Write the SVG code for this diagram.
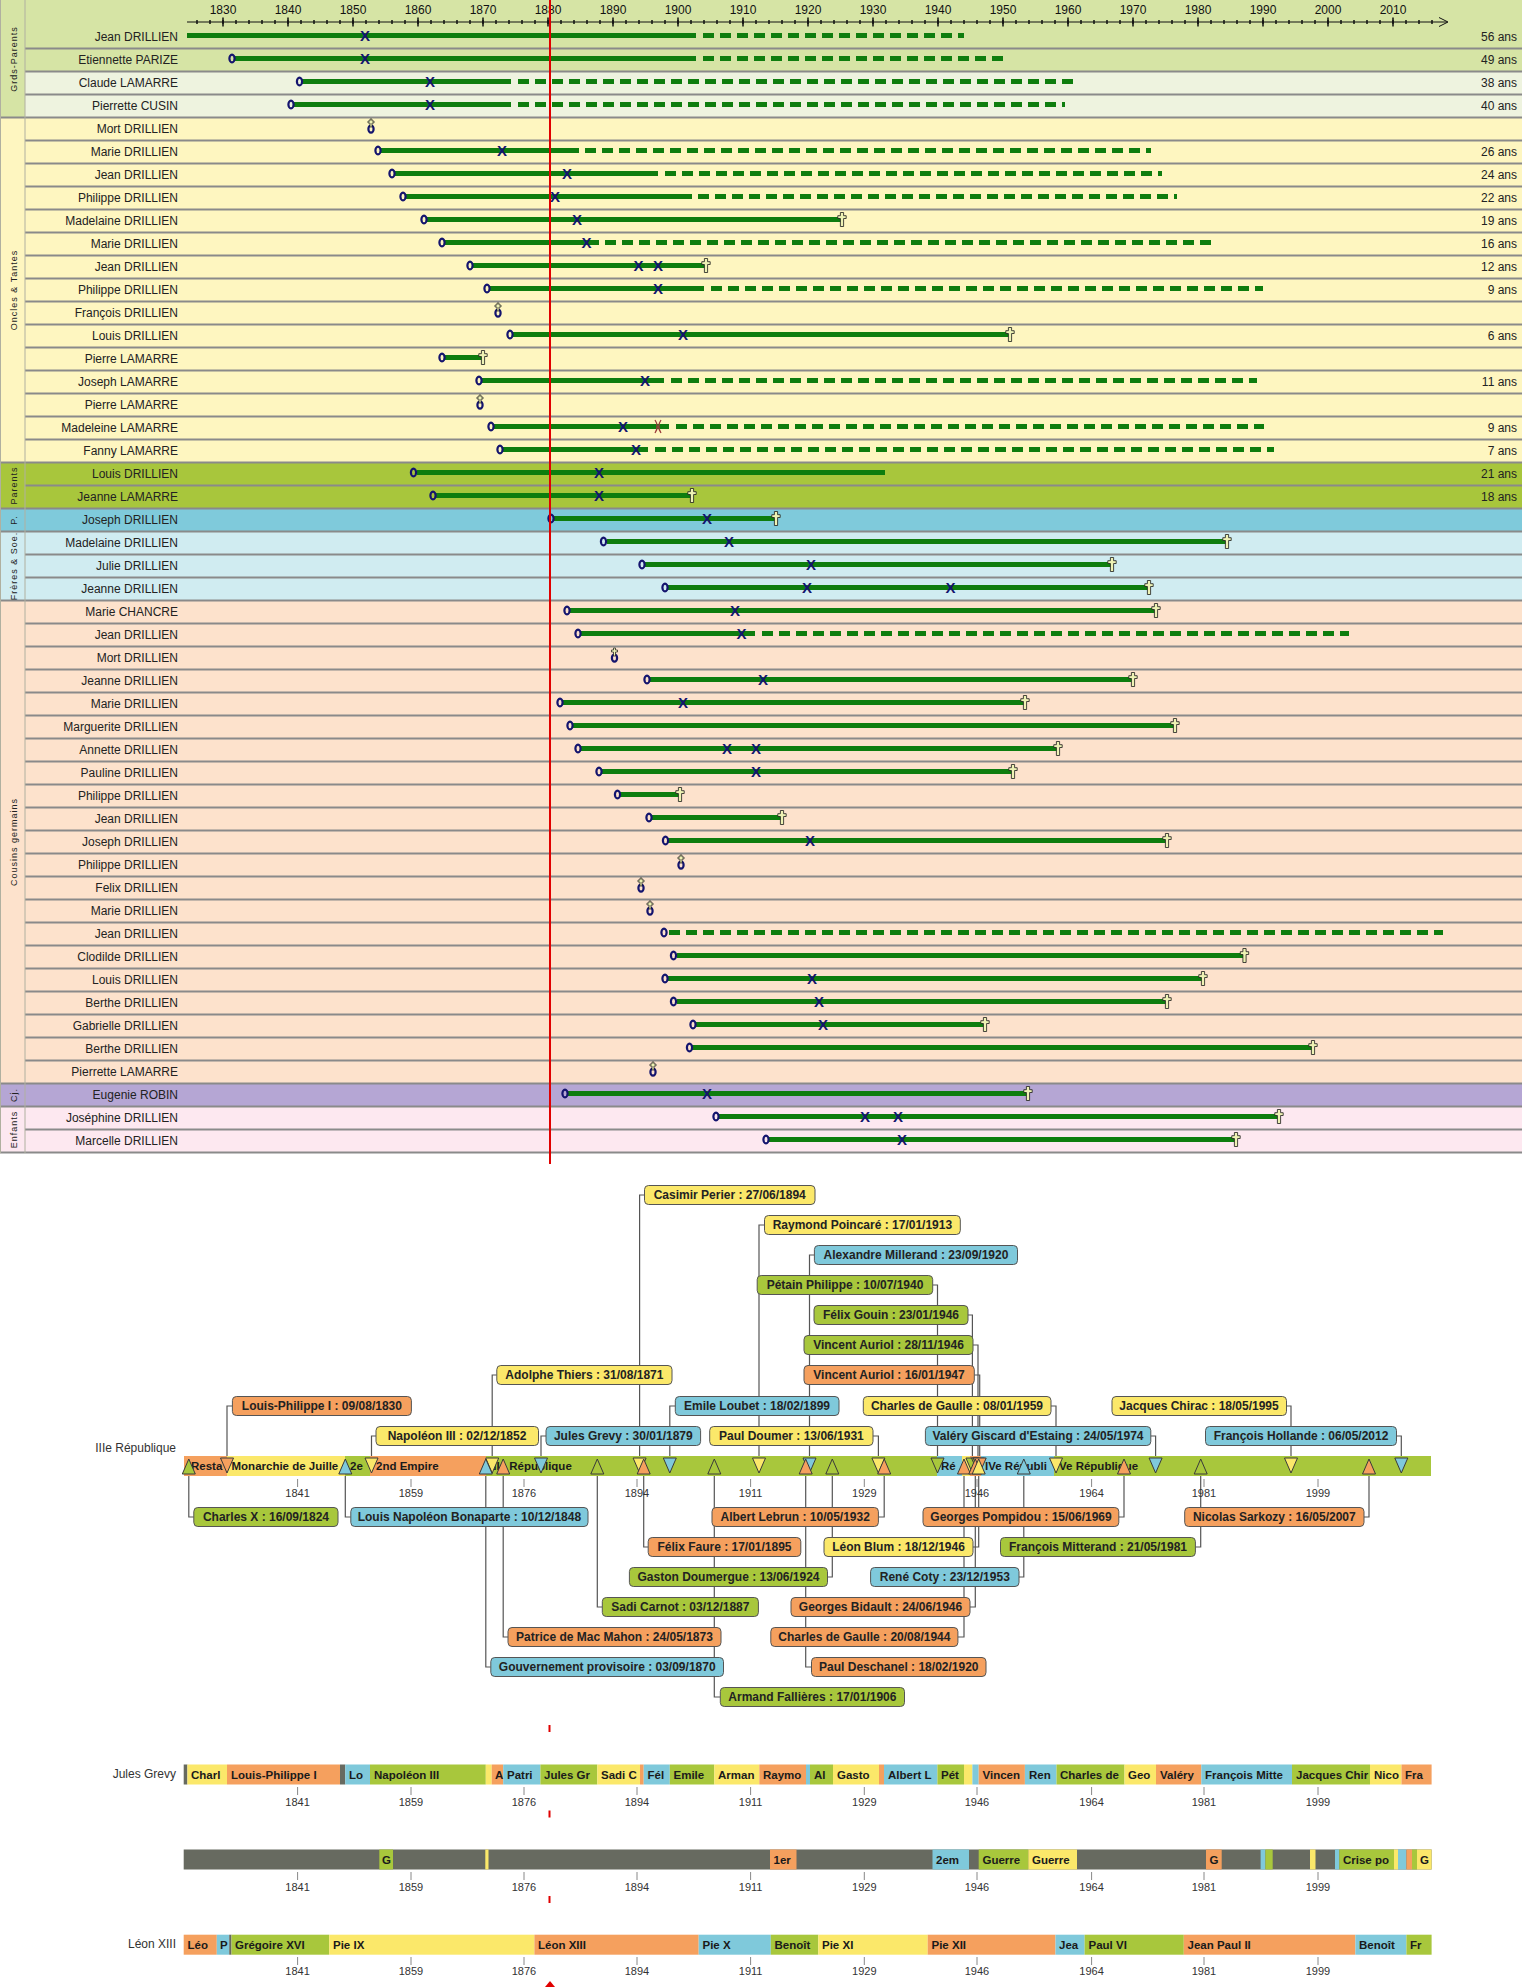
<svg xmlns="http://www.w3.org/2000/svg" width="1522" height="1987" viewBox="0 0 1522 1987">
<style>
text{font-family:"Liberation Sans",Arial,sans-serif}
.nm{font-size:12px;fill:#222;text-anchor:end}
.an{font-size:12px;fill:#222;text-anchor:end}
.yr{font-size:12px;fill:#111;text-anchor:middle}
.grp{font-size:9px;letter-spacing:1px;fill:#222;text-anchor:middle}
.s{stroke:#0e7d0e;stroke-width:5}
.d{stroke:#0e7d0e;stroke-width:5;stroke-dasharray:11 6}
.x{font-family:"Liberation Sans Narrow","Liberation Sans",Arial,sans-serif;font-size:15px;font-weight:bold;fill:#14146e;text-anchor:middle}
.sep{stroke:#8a8a8a;stroke-width:2;fill:none}
.Y{fill:#fbe86a}.O{fill:#f5a05e}.B{fill:#7fc9db}.G{fill:#a8c73c}.D{fill:#676a60}
.bx{stroke:#555;stroke-width:1}
.bt{font-size:12px;font-weight:bold;fill:#222;text-anchor:middle}
.st{font-size:11.5px;font-weight:bold;fill:#1a1a1a}
.tk{font-size:11px;fill:#333;text-anchor:middle}
.tkl{stroke:#888;stroke-width:1;fill:none}
.conn{stroke:#555;stroke-width:1.2;fill:none}
.tri{stroke:#3a3a3a;stroke-width:1}
.lbl{font-size:12px;fill:#333;text-anchor:end}
</style>
<defs>
<ellipse id="bo" rx="2.6" ry="3.8" fill="none" stroke="#14146e" stroke-width="2.2"/>
<path id="cr" d="M-1.6,-7 h3.2 v3.2 h2.6 v2.8 h-2.6 v8 h-3.2 v-8 h-2.6 v-2.8 h2.6z" fill="#eef2b4" stroke="#1a1a1a" stroke-width="0.8"/>
<g id="mo"><ellipse cx="0" cy="1.5" rx="2.6" ry="3.6" fill="none" stroke="#14146e" stroke-width="2.2"/><path d="M-1,-8.5 h2 v2 h2 v2 h-2 v4 h-2 v-4 h-2 v-2 h2z" fill="#eef2b4" stroke="#1a1a1a" stroke-width="0.7"/></g>
<path id="td" d="M-6.5,0 h13 L0,15z"/>
<path id="tu" d="M-6.5,0 h13 L0,-15z"/>
</defs>
<rect width="1522" height="1987" fill="#fff"/>

<g id="backgrounds">
<rect x="0" y="0" width="1522" height="71.5" fill="#d6e4a5"/>
<rect x="0" y="71.5" width="1522" height="46" fill="#eef3df"/>
<rect x="0" y="0" width="25" height="117.5" fill="#d6e4a5"/>
<rect x="0" y="117.5" width="1522" height="345" fill="#fef6c0"/>
<rect x="0" y="462.5" width="1522" height="46" fill="#a8c63c"/>
<rect x="0" y="508.5" width="1522" height="23" fill="#7fcadb"/>
<rect x="0" y="531.5" width="1522" height="69" fill="#d0ecf1"/>
<rect x="0" y="600.5" width="1522" height="483" fill="#fde2cc"/>
<rect x="0" y="1083.5" width="1522" height="23" fill="#b5a6d4"/>
<rect x="0" y="1106.5" width="1522" height="46" fill="#fde8f0"/>
<path class="sep" d="M25,48.5H1522M25,71.5H1522M25,94.5H1522M25,140.5H1522M25,163.5H1522M25,186.5H1522M25,209.5H1522M25,232.5H1522M25,255.5H1522M25,278.5H1522M25,301.5H1522M25,324.5H1522M25,347.5H1522M25,370.5H1522M25,393.5H1522M25,416.5H1522M25,439.5H1522M25,485.5H1522M25,554.5H1522M25,577.5H1522M25,623.5H1522M25,646.5H1522M25,669.5H1522M25,692.5H1522M25,715.5H1522M25,738.5H1522M25,761.5H1522M25,784.5H1522M25,807.5H1522M25,830.5H1522M25,853.5H1522M25,876.5H1522M25,899.5H1522M25,922.5H1522M25,945.5H1522M25,968.5H1522M25,991.5H1522M25,1014.5H1522M25,1037.5H1522M25,1060.5H1522M25,1129.5H1522"/>
<path class="sep" d="M0,117.5H1522M0,462.5H1522M0,508.5H1522M0,531.5H1522M0,600.5H1522M0,1083.5H1522M0,1106.5H1522M0,1152.5H1522"/>
<path d="M0.5,0V1153M25,0V1153" stroke="#b0b0a0" stroke-width="1" fill="none"/>
</g>

<g id="groups">
<text class="grp" transform="translate(16.5,59) rotate(-90)">Grds-Parents</text>
<text class="grp" transform="translate(16.5,290) rotate(-90)">Oncles &amp; Tantes</text>
<text class="grp" transform="translate(16.5,485.5) rotate(-90)">Parents</text>
<text class="grp" transform="translate(16.5,520) rotate(-90)">P.</text>
<text class="grp" transform="translate(16.5,566) rotate(-90)">Frères &amp; Soe.</text>
<text class="grp" transform="translate(16.5,842) rotate(-90)">Cousins germains</text>
<text class="grp" transform="translate(16.5,1095) rotate(-90)">Cj.</text>
<text class="grp" transform="translate(16.5,1129.5) rotate(-90)">Enfants</text>
</g>

<g id="axis">
<line x1="187" y1="22" x2="1447" y2="22" stroke="#111" stroke-width="1.2"/>
<line x1="196.25" y1="22" x2="1440" y2="22" stroke="#111" stroke-width="4" stroke-dasharray="1.5 11.5"/>
<line x1="222.25" y1="22" x2="1400" y2="22" stroke="#111" stroke-width="9" stroke-dasharray="1.5 63.5"/>
<path d="M1439,17.5 L1448,22 L1439,26.5" fill="none" stroke="#111" stroke-width="1"/>
<text class="yr" x="223" y="14">1830</text><text class="yr" x="288" y="14">1840</text><text class="yr" x="353" y="14">1850</text><text class="yr" x="418" y="14">1860</text><text class="yr" x="483" y="14">1870</text><text class="yr" x="548" y="14">1880</text><text class="yr" x="613" y="14">1890</text><text class="yr" x="678" y="14">1900</text><text class="yr" x="743" y="14">1910</text><text class="yr" x="808" y="14">1920</text><text class="yr" x="873" y="14">1930</text><text class="yr" x="938" y="14">1940</text><text class="yr" x="1003" y="14">1950</text><text class="yr" x="1068" y="14">1960</text><text class="yr" x="1133" y="14">1970</text><text class="yr" x="1198" y="14">1980</text><text class="yr" x="1263" y="14">1990</text><text class="yr" x="1328" y="14">2000</text><text class="yr" x="1393" y="14">2010</text>
</g>

<g id="row0"><text class="nm" x="178" y="41">Jean DRILLIEN</text><line class="s" x1="187" y1="35.5" x2="696" y2="35.5"/><line class="d" x1="703" y1="35.5" x2="964" y2="35.5"/><text class="x" x="365" y="41">X</text><text class="an" x="1517" y="41">56 ans</text></g>
<g id="row1"><text class="nm" x="178" y="64">Etiennette PARIZE</text><line class="s" x1="235" y1="58.5" x2="696" y2="58.5"/><line class="d" x1="703" y1="58.5" x2="1009" y2="58.5"/><use href="#bo" x="232" y="58.5"/><text class="x" x="365" y="64">X</text><text class="an" x="1517" y="64">49 ans</text></g>
<g id="row2"><text class="nm" x="178" y="87">Claude LAMARRE</text><line class="s" x1="302" y1="81.5" x2="511" y2="81.5"/><line class="d" x1="518" y1="81.5" x2="1078" y2="81.5"/><use href="#bo" x="299.5" y="81.5"/><text class="x" x="430" y="87">X</text><text class="an" x="1517" y="87">38 ans</text></g>
<g id="row3"><text class="nm" x="178" y="110">Pierrette CUSIN</text><line class="s" x1="294" y1="104.5" x2="511" y2="104.5"/><line class="d" x1="518" y1="104.5" x2="1065" y2="104.5"/><use href="#bo" x="291" y="104.5"/><text class="x" x="430" y="110">X</text><text class="an" x="1517" y="110">40 ans</text></g>
<g id="row4"><text class="nm" x="178" y="133">Mort DRILLIEN</text><use href="#mo" x="371" y="127.5"/></g>
<g id="row5"><text class="nm" x="178" y="156">Marie DRILLIEN</text><line class="s" x1="381" y1="150.5" x2="579" y2="150.5"/><line class="d" x1="585" y1="150.5" x2="1151" y2="150.5"/><use href="#bo" x="378" y="150.5"/><text class="x" x="502" y="156">X</text><text class="an" x="1517" y="156">26 ans</text></g>
<g id="row6"><text class="nm" x="178" y="179">Jean DRILLIEN</text><line class="s" x1="395" y1="173.5" x2="658" y2="173.5"/><line class="d" x1="665" y1="173.5" x2="1162" y2="173.5"/><use href="#bo" x="392" y="173.5"/><text class="x" x="567" y="179">X</text><text class="an" x="1517" y="179">24 ans</text></g>
<g id="row7"><text class="nm" x="178" y="202">Philippe DRILLIEN</text><line class="s" x1="406" y1="196.5" x2="692" y2="196.5"/><line class="d" x1="698" y1="196.5" x2="1177" y2="196.5"/><use href="#bo" x="403" y="196.5"/><text class="x" x="555" y="202">X</text><text class="an" x="1517" y="202">22 ans</text></g>
<g id="row8"><text class="nm" x="178" y="225">Madelaine DRILLIEN</text><line class="s" x1="427" y1="219.5" x2="842" y2="219.5"/><use href="#bo" x="424" y="219.5"/><text class="x" x="577" y="225">X</text><use href="#cr" x="842" y="219.5"/><text class="an" x="1517" y="225">19 ans</text></g>
<g id="row9"><text class="nm" x="178" y="248">Marie DRILLIEN</text><line class="s" x1="445" y1="242.5" x2="599" y2="242.5"/><line class="d" x1="605" y1="242.5" x2="1217" y2="242.5"/><use href="#bo" x="442" y="242.5"/><text class="x" x="586.5" y="248">X</text><text class="an" x="1517" y="248">16 ans</text></g>
<g id="row10"><text class="nm" x="178" y="271">Jean DRILLIEN</text><line class="s" x1="473" y1="265.5" x2="706" y2="265.5"/><use href="#bo" x="470" y="265.5"/><text class="x" x="638.5" y="271">X</text><text class="x" x="658" y="271">X</text><use href="#cr" x="706" y="265.5"/><text class="an" x="1517" y="271">12 ans</text></g>
<g id="row11"><text class="nm" x="178" y="294">Philippe DRILLIEN</text><line class="s" x1="490" y1="288.5" x2="704" y2="288.5"/><line class="d" x1="711" y1="288.5" x2="1263" y2="288.5"/><use href="#bo" x="487" y="288.5"/><text class="x" x="658" y="294">X</text><text class="an" x="1517" y="294">9 ans</text></g>
<g id="row12"><text class="nm" x="178" y="317">François DRILLIEN</text><use href="#mo" x="498" y="311.5"/></g>
<g id="row13"><text class="nm" x="178" y="340">Louis DRILLIEN</text><line class="s" x1="513" y1="334.5" x2="1010" y2="334.5"/><use href="#bo" x="510" y="334.5"/><text class="x" x="683" y="340">X</text><use href="#cr" x="1010" y="334.5"/><text class="an" x="1517" y="340">6 ans</text></g>
<g id="row14"><text class="nm" x="178" y="363">Pierre LAMARRE</text><line class="s" x1="445" y1="357.5" x2="483" y2="357.5"/><use href="#bo" x="442" y="357.5"/><use href="#cr" x="483" y="357.5"/></g>
<g id="row15"><text class="nm" x="178" y="386">Joseph LAMARRE</text><line class="s" x1="482" y1="380.5" x2="664" y2="380.5"/><line class="d" x1="671" y1="380.5" x2="1257" y2="380.5"/><use href="#bo" x="479" y="380.5"/><text class="x" x="645" y="386">X</text><text class="an" x="1517" y="386">11 ans</text></g>
<g id="row16"><text class="nm" x="178" y="409">Pierre LAMARRE</text><use href="#mo" x="480" y="403.5"/></g>
<g id="row17"><text class="nm" x="178" y="432">Madeleine LAMARRE</text><line class="s" x1="494" y1="426.5" x2="669" y2="426.5"/><line class="d" x1="676" y1="426.5" x2="1264" y2="426.5"/><use href="#bo" x="491" y="426.5"/><text class="x" x="623" y="432">X</text><path d="M655,420 Q659.5,426.5 655,433 M661,420 Q656.5,426.5 661,433" stroke="#9c3b3b" stroke-width="1.3" fill="none"/><text class="an" x="1517" y="432">9 ans</text></g>
<g id="row18"><text class="nm" x="178" y="455">Fanny LAMARRE</text><line class="s" x1="503" y1="449.5" x2="648" y2="449.5"/><line class="d" x1="655" y1="449.5" x2="1274" y2="449.5"/><use href="#bo" x="500" y="449.5"/><text class="x" x="636" y="455">X</text><text class="an" x="1517" y="455">7 ans</text></g>
<g id="row19"><text class="nm" x="178" y="478">Louis DRILLIEN</text><line class="s" x1="417" y1="472.5" x2="885" y2="472.5"/><use href="#bo" x="413.5" y="472.5"/><text class="x" x="599" y="478">X</text><text class="an" x="1517" y="478">21 ans</text></g>
<g id="row20"><text class="nm" x="178" y="501">Jeanne LAMARRE</text><line class="s" x1="436" y1="495.5" x2="692" y2="495.5"/><use href="#bo" x="433" y="495.5"/><text class="x" x="599" y="501">X</text><use href="#cr" x="692" y="495.5"/><text class="an" x="1517" y="501">18 ans</text></g>
<g id="row21"><text class="nm" x="178" y="524">Joseph DRILLIEN</text><line class="s" x1="554" y1="518.5" x2="776" y2="518.5"/><use href="#bo" x="551" y="518.5"/><text class="x" x="707" y="524">X</text><use href="#cr" x="776" y="518.5"/></g>
<g id="row22"><text class="nm" x="178" y="547">Madelaine DRILLIEN</text><line class="s" x1="607" y1="541.5" x2="1227" y2="541.5"/><use href="#bo" x="603.5" y="541.5"/><text class="x" x="729" y="547">X</text><use href="#cr" x="1227" y="541.5"/></g>
<g id="row23"><text class="nm" x="178" y="570">Julie DRILLIEN</text><line class="s" x1="645" y1="564.5" x2="1112" y2="564.5"/><use href="#bo" x="642" y="564.5"/><text class="x" x="811" y="570">X</text><use href="#cr" x="1112" y="564.5"/></g>
<g id="row24"><text class="nm" x="178" y="593">Jeanne DRILLIEN</text><line class="s" x1="668" y1="587.5" x2="1149" y2="587.5"/><use href="#bo" x="665" y="587.5"/><text class="x" x="807" y="593">X</text><text class="x" x="950.5" y="593">X</text><use href="#cr" x="1149" y="587.5"/></g>
<g id="row25"><text class="nm" x="178" y="616">Marie CHANCRE</text><line class="s" x1="570" y1="610.5" x2="1156" y2="610.5"/><use href="#bo" x="567" y="610.5"/><text class="x" x="735" y="616">X</text><use href="#cr" x="1156" y="610.5"/></g>
<g id="row26"><text class="nm" x="178" y="639">Jean DRILLIEN</text><line class="s" x1="581" y1="633.5" x2="755" y2="633.5"/><line class="d" x1="762" y1="633.5" x2="1349" y2="633.5"/><use href="#bo" x="578" y="633.5"/><text class="x" x="741.5" y="639">X</text></g>
<g id="row27"><text class="nm" x="178" y="662">Mort DRILLIEN</text><use href="#mo" x="614.5" y="656.5"/></g>
<g id="row28"><text class="nm" x="178" y="685">Jeanne DRILLIEN</text><line class="s" x1="650" y1="679.5" x2="1133" y2="679.5"/><use href="#bo" x="647" y="679.5"/><text class="x" x="763" y="685">X</text><use href="#cr" x="1133" y="679.5"/></g>
<g id="row29"><text class="nm" x="178" y="708">Marie DRILLIEN</text><line class="s" x1="563" y1="702.5" x2="1025" y2="702.5"/><use href="#bo" x="560" y="702.5"/><text class="x" x="683" y="708">X</text><use href="#cr" x="1025" y="702.5"/></g>
<g id="row30"><text class="nm" x="178" y="731">Marguerite DRILLIEN</text><line class="s" x1="573" y1="725.5" x2="1175" y2="725.5"/><use href="#bo" x="570" y="725.5"/><use href="#cr" x="1175" y="725.5"/></g>
<g id="row31"><text class="nm" x="178" y="754">Annette DRILLIEN</text><line class="s" x1="581" y1="748.5" x2="1058" y2="748.5"/><use href="#bo" x="578" y="748.5"/><text class="x" x="727" y="754">X</text><text class="x" x="756" y="754">X</text><use href="#cr" x="1058" y="748.5"/></g>
<g id="row32"><text class="nm" x="178" y="777">Pauline DRILLIEN</text><line class="s" x1="602" y1="771.5" x2="1013" y2="771.5"/><use href="#bo" x="599" y="771.5"/><text class="x" x="756" y="777">X</text><use href="#cr" x="1013" y="771.5"/></g>
<g id="row33"><text class="nm" x="178" y="800">Philippe DRILLIEN</text><line class="s" x1="620" y1="794.5" x2="680" y2="794.5"/><use href="#bo" x="617.5" y="794.5"/><use href="#cr" x="680" y="794.5"/></g>
<g id="row34"><text class="nm" x="178" y="823">Jean DRILLIEN</text><line class="s" x1="652" y1="817.5" x2="782" y2="817.5"/><use href="#bo" x="649" y="817.5"/><use href="#cr" x="782" y="817.5"/></g>
<g id="row35"><text class="nm" x="178" y="846">Joseph DRILLIEN</text><line class="s" x1="668" y1="840.5" x2="1167" y2="840.5"/><use href="#bo" x="665.5" y="840.5"/><text class="x" x="810" y="846">X</text><use href="#cr" x="1167" y="840.5"/></g>
<g id="row36"><text class="nm" x="178" y="869">Philippe DRILLIEN</text><use href="#mo" x="681" y="863.5"/></g>
<g id="row37"><text class="nm" x="178" y="892">Felix DRILLIEN</text><use href="#mo" x="641" y="886.5"/></g>
<g id="row38"><text class="nm" x="178" y="915">Marie DRILLIEN</text><use href="#mo" x="650" y="909.5"/></g>
<g id="row39"><text class="nm" x="178" y="938">Jean DRILLIEN</text><line class="d" x1="669" y1="932.5" x2="1443" y2="932.5"/><use href="#bo" x="664" y="932.5"/></g>
<g id="row40"><text class="nm" x="178" y="961">Clodilde DRILLIEN</text><line class="s" x1="677" y1="955.5" x2="1244.5" y2="955.5"/><use href="#bo" x="673.5" y="955.5"/><use href="#cr" x="1244.5" y="955.5"/></g>
<g id="row41"><text class="nm" x="178" y="984">Louis DRILLIEN</text><line class="s" x1="668" y1="978.5" x2="1203" y2="978.5"/><use href="#bo" x="665" y="978.5"/><text class="x" x="812" y="984">X</text><use href="#cr" x="1203" y="978.5"/></g>
<g id="row42"><text class="nm" x="178" y="1007">Berthe DRILLIEN</text><line class="s" x1="677" y1="1001.5" x2="1167" y2="1001.5"/><use href="#bo" x="673.5" y="1001.5"/><text class="x" x="819" y="1007">X</text><use href="#cr" x="1167" y="1001.5"/></g>
<g id="row43"><text class="nm" x="178" y="1030">Gabrielle DRILLIEN</text><line class="s" x1="696" y1="1024.5" x2="985" y2="1024.5"/><use href="#bo" x="693" y="1024.5"/><text class="x" x="823" y="1030">X</text><use href="#cr" x="985" y="1024.5"/></g>
<g id="row44"><text class="nm" x="178" y="1053">Berthe DRILLIEN</text><line class="s" x1="692" y1="1047.5" x2="1313" y2="1047.5"/><use href="#bo" x="689.5" y="1047.5"/><use href="#cr" x="1313" y="1047.5"/></g>
<g id="row45"><text class="nm" x="178" y="1076">Pierrette LAMARRE</text><use href="#mo" x="653" y="1070.5"/></g>
<g id="row46"><text class="nm" x="178" y="1099">Eugenie ROBIN</text><line class="s" x1="568" y1="1093.5" x2="1028" y2="1093.5"/><use href="#bo" x="565" y="1093.5"/><text class="x" x="707" y="1099">X</text><use href="#cr" x="1028" y="1093.5"/></g>
<g id="row47"><text class="nm" x="178" y="1122">Joséphine DRILLIEN</text><line class="s" x1="719" y1="1116.5" x2="1279" y2="1116.5"/><use href="#bo" x="716" y="1116.5"/><text class="x" x="865" y="1122">X</text><text class="x" x="898" y="1122">X</text><use href="#cr" x="1279" y="1116.5"/></g>
<g id="row48"><text class="nm" x="178" y="1145">Marcelle DRILLIEN</text><line class="s" x1="769" y1="1139.5" x2="1236" y2="1139.5"/><use href="#bo" x="766" y="1139.5"/><text class="x" x="902" y="1145">X</text><use href="#cr" x="1236" y="1139.5"/></g>

<line id="today" x1="550" y1="0" x2="550" y2="1164" stroke="#e00000" stroke-width="2"/>

<g id="connectors">
<path class="conn" d="M644.5,1195H639.6V1458"/>
<path class="conn" d="M764.5,1225H759V1458"/>
<path class="conn" d="M814.4,1255H809.5V1458"/>
<path class="conn" d="M932.7,1285H937.5V1458"/>
<path class="conn" d="M968,1315H972.4V1458"/>
<path class="conn" d="M973,1345H978V1458"/>
<path class="conn" d="M974.3,1375H979.7V1458"/>
<path class="conn" d="M496.8,1375H492.2V1458"/>
<path class="conn" d="M232.4,1406H227V1458"/>
<path class="conn" d="M675.3,1406H669.8V1458"/>
<path class="conn" d="M1051,1406H1056V1458"/>
<path class="conn" d="M1286.5,1406H1291V1458"/>
<path class="conn" d="M376,1436H371.5V1458"/>
<path class="conn" d="M546,1436H541V1458"/>
<path class="conn" d="M873,1436H878.4V1458"/>
<path class="conn" d="M1150.8,1436H1155.6V1458"/>
<path class="conn" d="M1396.5,1436H1401.3V1458"/>
<path class="conn" d="M193.8,1517H188.8V1474"/>
<path class="conn" d="M350.8,1517H345.3V1474"/>
<path class="conn" d="M878.4,1517H884.2V1474"/>
<path class="conn" d="M1118.8,1517H1124V1474"/>
<path class="conn" d="M1364,1517H1369V1474"/>
<path class="conn" d="M648.2,1547H643.7V1474"/>
<path class="conn" d="M973,1547H978.7V1474"/>
<path class="conn" d="M1195.4,1547H1200.7V1474"/>
<path class="conn" d="M827.5,1577H832.3V1474"/>
<path class="conn" d="M1019,1577H1023.8V1474"/>
<path class="conn" d="M602.3,1607H597.3V1474"/>
<path class="conn" d="M970,1607H975.3V1474"/>
<path class="conn" d="M508,1637H503.2V1474"/>
<path class="conn" d="M957.9,1637H964V1474"/>
<path class="conn" d="M490.8,1667H485.8V1474"/>
<path class="conn" d="M811.5,1667H805.7V1474"/>
<path class="conn" d="M720.3,1697H714.3V1474"/>
</g>

<g id="regimes">
<text class="lbl" x="176" y="1452">IIIe République</text>
<rect class="G" x="184" y="1456" width="1247" height="20"/>
<rect class="O" x="184" y="1456" width="43" height="20"/>
<rect class="Y" x="227" y="1456" width="118" height="20"/>
<rect class="O" x="370" y="1456" width="116" height="20"/>
<rect class="B" x="937" y="1456" width="25" height="20"/>
<rect class="Y" x="962" y="1456" width="8" height="20"/>
<rect class="O" x="970" y="1456" width="11" height="20"/>
<rect class="B" x="981" y="1456" width="73" height="20"/>
<text class="st" x="191" y="1470">Resta</text>
<text class="st" x="231.5" y="1470">Monarchie de Juille</text>
<text class="st" x="350" y="1470">2e</text>
<text class="st" x="376" y="1470">2nd Empire</text>
<text class="st" x="490" y="1470">IIIe République</text>
<text class="st" x="941" y="1470">Ré</text>
<text class="st" x="985" y="1470">IVe Républi</text>
<text class="st" x="1059" y="1470">Ve République</text>
</g>

<g id="markers">
<use href="#td" class="O tri" x="227" y="1458"/>
<use href="#td" class="Y tri" x="371.5" y="1458"/>
<use href="#td" class="Y tri" x="492.2" y="1458"/>
<use href="#td" class="B tri" x="541" y="1458"/>
<use href="#td" class="Y tri" x="639.6" y="1458"/>
<use href="#td" class="B tri" x="669.8" y="1458"/>
<use href="#td" class="Y tri" x="759" y="1458"/>
<use href="#td" class="B tri" x="809.5" y="1458"/>
<use href="#td" class="Y tri" x="878.4" y="1458"/>
<use href="#td" class="G tri" x="937.5" y="1458"/>
<use href="#td" class="G tri" x="972.4" y="1458"/>
<use href="#td" class="G tri" x="978" y="1458"/>
<use href="#td" class="O tri" x="979.7" y="1458"/>
<use href="#td" class="Y tri" x="1056" y="1458"/>
<use href="#td" class="B tri" x="1155.6" y="1458"/>
<use href="#td" class="Y tri" x="1291" y="1458"/>
<use href="#td" class="B tri" x="1401.3" y="1458"/>
<use href="#tu" class="G tri" x="188.8" y="1474"/>
<use href="#tu" class="B tri" x="345.3" y="1474"/>
<use href="#tu" class="B tri" x="485.8" y="1474"/>
<use href="#tu" class="O tri" x="503.2" y="1474"/>
<use href="#tu" class="G tri" x="597.3" y="1474"/>
<use href="#tu" class="O tri" x="643.7" y="1474"/>
<use href="#tu" class="G tri" x="714.3" y="1474"/>
<use href="#tu" class="O tri" x="805.7" y="1474"/>
<use href="#tu" class="G tri" x="832.3" y="1474"/>
<use href="#tu" class="O tri" x="884.2" y="1474"/>
<use href="#tu" class="O tri" x="964" y="1474"/>
<use href="#tu" class="O tri" x="975.3" y="1474"/>
<use href="#tu" class="Y tri" x="978.7" y="1474"/>
<use href="#tu" class="B tri" x="1023.8" y="1474"/>
<use href="#tu" class="O tri" x="1124" y="1474"/>
<use href="#tu" class="G tri" x="1200.7" y="1474"/>
<use href="#tu" class="O tri" x="1369" y="1474"/>
</g>

<g id="ticks">
<path class="tkl" d="M297.6,1479v8M411,1479v8M524,1479v8M637,1479v8M750.6,1479v8M864.3,1479v8M977,1479v8M1091.6,1479v8M1204,1479v8M1318,1479v8"/>
<text class="tk" x="297.6" y="1497">1841</text><text class="tk" x="411" y="1497">1859</text><text class="tk" x="524" y="1497">1876</text><text class="tk" x="637" y="1497">1894</text><text class="tk" x="750.6" y="1497">1911</text><text class="tk" x="864.3" y="1497">1929</text><text class="tk" x="977" y="1497">1946</text><text class="tk" x="1091.6" y="1497">1964</text><text class="tk" x="1204" y="1497">1981</text><text class="tk" x="1318" y="1497">1999</text>
</g>

<g id="ev-casimir"><rect class="Y bx" x="644.5" y="1185.5" width="170.5" height="19" rx="4"/><text class="bt" x="729.75" y="1199">Casimir Perier : 27/06/1894</text></g>
<g id="ev-poincare"><rect class="Y bx" x="764.5" y="1215.5" width="195.8" height="19" rx="4"/><text class="bt" x="862.4" y="1229">Raymond Poincaré : 17/01/1913</text></g>
<g id="ev-millerand"><rect class="B bx" x="814.4" y="1245.5" width="203.1" height="19" rx="4"/><text class="bt" x="916" y="1259">Alexandre Millerand : 23/09/1920</text></g>
<g id="ev-petain"><rect class="G bx" x="757.2" y="1275.5" width="175.5" height="19" rx="4"/><text class="bt" x="845" y="1289">Pétain Philippe : 10/07/1940</text></g>
<g id="ev-gouin"><rect class="G bx" x="814" y="1305.5" width="154" height="19" rx="4"/><text class="bt" x="891" y="1319">Félix Gouin : 23/01/1946</text></g>
<g id="ev-auriol1"><rect class="G bx" x="804" y="1335.5" width="169" height="19" rx="4"/><text class="bt" x="888.5" y="1349">Vincent Auriol : 28/11/1946</text></g>
<g id="ev-auriol2"><rect class="O bx" x="804" y="1365.5" width="170.3" height="19" rx="4"/><text class="bt" x="889" y="1379">Vincent Auriol : 16/01/1947</text></g>
<g id="ev-thiers"><rect class="Y bx" x="496.8" y="1365.5" width="175.2" height="19" rx="4"/><text class="bt" x="584.4" y="1379">Adolphe Thiers : 31/08/1871</text></g>
<g id="ev-louisphilippe"><rect class="O bx" x="232.4" y="1396.5" width="179" height="19" rx="4"/><text class="bt" x="321.9" y="1410">Louis-Philippe I : 09/08/1830</text></g>
<g id="ev-loubet"><rect class="B bx" x="675.3" y="1396.5" width="163.7" height="19" rx="4"/><text class="bt" x="757" y="1410">Emile Loubet : 18/02/1899</text></g>
<g id="ev-degaulle1959"><rect class="Y bx" x="863.3" y="1396.5" width="187.7" height="19" rx="4"/><text class="bt" x="957" y="1410">Charles de Gaulle : 08/01/1959</text></g>
<g id="ev-chirac"><rect class="Y bx" x="1112" y="1396.5" width="174.5" height="19" rx="4"/><text class="bt" x="1199" y="1410">Jacques Chirac : 18/05/1995</text></g>
<g id="ev-napoleon3"><rect class="Y bx" x="376" y="1426.5" width="162.5" height="19" rx="4"/><text class="bt" x="457" y="1440">Napoléon III : 02/12/1852</text></g>
<g id="ev-grevy"><rect class="B bx" x="546" y="1426.5" width="154.6" height="19" rx="4"/><text class="bt" x="623.3" y="1440">Jules Grevy : 30/01/1879</text></g>
<g id="ev-doumer"><rect class="Y bx" x="709.7" y="1426.5" width="163.3" height="19" rx="4"/><text class="bt" x="791.4" y="1440">Paul Doumer : 13/06/1931</text></g>
<g id="ev-vge"><rect class="B bx" x="925.4" y="1426.5" width="225.4" height="19" rx="4"/><text class="bt" x="1038" y="1440">Valéry Giscard d'Estaing : 24/05/1974</text></g>
<g id="ev-hollande"><rect class="B bx" x="1205.5" y="1426.5" width="191" height="19" rx="4"/><text class="bt" x="1301" y="1440">François Hollande : 06/05/2012</text></g>
<g id="ev-charlesx"><rect class="G bx" x="193.8" y="1507.5" width="144.2" height="19" rx="4"/><text class="bt" x="266" y="1521">Charles X : 16/09/1824</text></g>
<g id="ev-lnb"><rect class="B bx" x="350.8" y="1507.5" width="237.2" height="19" rx="4"/><text class="bt" x="469.4" y="1521">Louis Napoléon Bonaparte : 10/12/1848</text></g>
<g id="ev-lebrun"><rect class="O bx" x="712" y="1507.5" width="166.4" height="19" rx="4"/><text class="bt" x="795.2" y="1521">Albert Lebrun : 10/05/1932</text></g>
<g id="ev-pompidou"><rect class="O bx" x="923" y="1507.5" width="195.8" height="19" rx="4"/><text class="bt" x="1021" y="1521">Georges Pompidou : 15/06/1969</text></g>
<g id="ev-sarkozy"><rect class="O bx" x="1184.7" y="1507.5" width="179.3" height="19" rx="4"/><text class="bt" x="1274.3" y="1521">Nicolas Sarkozy : 16/05/2007</text></g>
<g id="ev-faure"><rect class="O bx" x="648.2" y="1537.5" width="152.6" height="19" rx="4"/><text class="bt" x="724.5" y="1551">Félix Faure : 17/01/1895</text></g>
<g id="ev-blum"><rect class="Y bx" x="824" y="1537.5" width="149" height="19" rx="4"/><text class="bt" x="898.5" y="1551">Léon Blum : 18/12/1946</text></g>
<g id="ev-mitterand"><rect class="G bx" x="1000.5" y="1537.5" width="194.9" height="19" rx="4"/><text class="bt" x="1098" y="1551">François Mitterand : 21/05/1981</text></g>
<g id="ev-doumergue"><rect class="G bx" x="629.4" y="1567.5" width="198.1" height="19" rx="4"/><text class="bt" x="728.5" y="1581">Gaston Doumergue : 13/06/1924</text></g>
<g id="ev-coty"><rect class="B bx" x="870.6" y="1567.5" width="148.4" height="19" rx="4"/><text class="bt" x="944.8" y="1581">René Coty : 23/12/1953</text></g>
<g id="ev-carnot"><rect class="G bx" x="602.3" y="1597.5" width="156.1" height="19" rx="4"/><text class="bt" x="680.4" y="1611">Sadi Carnot : 03/12/1887</text></g>
<g id="ev-bidault"><rect class="O bx" x="791" y="1597.5" width="179" height="19" rx="4"/><text class="bt" x="880.5" y="1611">Georges Bidault : 24/06/1946</text></g>
<g id="ev-macmahon"><rect class="O bx" x="508" y="1627.5" width="213" height="19" rx="4"/><text class="bt" x="614.5" y="1641">Patrice de Mac Mahon : 24/05/1873</text></g>
<g id="ev-degaulle1944"><rect class="O bx" x="770.8" y="1627.5" width="187.1" height="19" rx="4"/><text class="bt" x="864.4" y="1641">Charles de Gaulle : 20/08/1944</text></g>
<g id="ev-gouvprov"><rect class="B bx" x="490.8" y="1657.5" width="232.7" height="19" rx="4"/><text class="bt" x="607.2" y="1671">Gouvernement provisoire : 03/09/1870</text></g>
<g id="ev-deschanel"><rect class="O bx" x="811.5" y="1657.5" width="174.5" height="19" rx="4"/><text class="bt" x="898.8" y="1671">Paul Deschanel : 18/02/1920</text></g>
<g id="ev-fallieres"><rect class="G bx" x="720.3" y="1687.5" width="184.2" height="19" rx="4"/><text class="bt" x="812.4" y="1701">Armand Fallières : 17/01/1906</text></g>

<g id="red-marks" fill="#e00000">
<rect x="548.5" y="1725" width="2" height="7"/>
<rect x="548.5" y="1810.5" width="2" height="7"/>
<rect x="548.5" y="1896" width="2" height="7"/>
<path d="M545,1987 L550,1981 L555,1987Z"/>
</g>

<g id="bar-presidents">
<text class="lbl" x="176" y="1778">Jules Grevy</text>
<rect class="D" x="183.7" y="1764.5" width="3.7" height="20"/>
<rect class="Y" x="187.4" y="1764.5" width="39.6" height="20"/>
<rect class="O" x="227" y="1764.5" width="113" height="20"/>
<rect class="D" x="340" y="1764.5" width="5.3" height="20"/>
<rect class="B" x="345.3" y="1764.5" width="24.7" height="20"/>
<rect class="G" x="370" y="1764.5" width="115.8" height="20"/>
<rect class="Y" x="485.8" y="1764.5" width="5.9" height="20"/>
<rect class="O" x="491.7" y="1764.5" width="11.5" height="20"/>
<rect class="B" x="503.2" y="1764.5" width="37.2" height="20"/>
<rect class="G" x="540.4" y="1764.5" width="56.9" height="20"/>
<rect class="Y" x="597.3" y="1764.5" width="42.7" height="20"/>
<rect class="O" x="640" y="1764.5" width="3.7" height="20"/>
<rect class="B" x="643.7" y="1764.5" width="26.1" height="20"/>
<rect class="G" x="669.8" y="1764.5" width="44.5" height="20"/>
<rect class="Y" x="714.3" y="1764.5" width="45" height="20"/>
<rect class="O" x="759.3" y="1764.5" width="46.7" height="20"/>
<rect class="B" x="806" y="1764.5" width="4" height="20"/>
<rect class="G" x="810" y="1764.5" width="23" height="20"/>
<rect class="Y" x="833" y="1764.5" width="46" height="20"/>
<rect class="O" x="879" y="1764.5" width="5" height="20"/>
<rect class="B" x="884" y="1764.5" width="53.4" height="20"/>
<rect class="G" x="937.4" y="1764.5" width="26.6" height="20"/>
<rect class="Y" x="964" y="1764.5" width="8.4" height="20"/>
<rect class="B" x="972.4" y="1764.5" width="6.3" height="20"/>
<rect class="O" x="978.7" y="1764.5" width="46.2" height="20"/>
<rect class="B" x="1024.9" y="1764.5" width="31.6" height="20"/>
<rect class="G" x="1056.5" y="1764.5" width="68" height="20"/>
<rect class="Y" x="1124.5" y="1764.5" width="31.5" height="20"/>
<rect class="O" x="1156" y="1764.5" width="45.3" height="20"/>
<rect class="B" x="1201.3" y="1764.5" width="90.7" height="20"/>
<rect class="G" x="1292" y="1764.5" width="78" height="20"/>
<rect class="Y" x="1370" y="1764.5" width="31.5" height="20"/>
<rect class="O" x="1401.5" y="1764.5" width="30.1" height="20"/>
<text class="st" x="191" y="1778.5">Charl</text>
<text class="st" x="231" y="1778.5">Louis-Philippe I</text>
<text class="st" x="349" y="1778.5">Lo</text>
<text class="st" x="374" y="1778.5">Napoléon III</text>
<text class="st" x="495" y="1778.5">A</text>
<text class="st" x="507" y="1778.5">Patri</text>
<text class="st" x="544" y="1778.5">Jules Gr</text>
<text class="st" x="601" y="1778.5">Sadi C</text>
<text class="st" x="647.5" y="1778.5">Fél</text>
<text class="st" x="673.5" y="1778.5">Emile</text>
<text class="st" x="718" y="1778.5">Arman</text>
<text class="st" x="763" y="1778.5">Raymo</text>
<text class="st" x="814" y="1778.5">Al</text>
<text class="st" x="837" y="1778.5">Gasto</text>
<text class="st" x="888" y="1778.5">Albert L</text>
<text class="st" x="941" y="1778.5">Pét</text>
<text class="st" x="982.5" y="1778.5">Vincen</text>
<text class="st" x="1029" y="1778.5">Ren</text>
<text class="st" x="1060" y="1778.5">Charles de</text>
<text class="st" x="1128" y="1778.5">Geo</text>
<text class="st" x="1160" y="1778.5">Valéry</text>
<text class="st" x="1205" y="1778.5">François Mitte</text>
<text class="st" x="1296" y="1778.5">Jacques Chir</text>
<text class="st" x="1374" y="1778.5">Nico</text>
<text class="st" x="1405" y="1778.5">Fra</text>
<path class="tkl" d="M297.6,1787v8M411,1787v8M524,1787v8M637,1787v8M750.6,1787v8M864.3,1787v8M977,1787v8M1091.6,1787v8M1204,1787v8M1318,1787v8"/>
<text class="tk" x="297.6" y="1806">1841</text><text class="tk" x="411" y="1806">1859</text><text class="tk" x="524" y="1806">1876</text><text class="tk" x="637" y="1806">1894</text><text class="tk" x="750.6" y="1806">1911</text><text class="tk" x="864.3" y="1806">1929</text><text class="tk" x="977" y="1806">1946</text><text class="tk" x="1091.6" y="1806">1964</text><text class="tk" x="1204" y="1806">1981</text><text class="tk" x="1318" y="1806">1999</text>
</g>

<g id="bar-events">
<rect class="D" x="183.7" y="1849.5" width="1247.9" height="20"/>
<rect class="G" x="379.3" y="1849.5" width="13.7" height="20"/>
<rect class="Y" x="485.3" y="1849.5" width="3.2" height="20"/>
<rect class="O" x="770" y="1849.5" width="26.5" height="20"/>
<rect class="B" x="932.5" y="1849.5" width="36.5" height="20"/>
<rect class="G" x="978.7" y="1849.5" width="49.6" height="20"/>
<rect class="Y" x="1028.3" y="1849.5" width="48.7" height="20"/>
<rect class="O" x="1206" y="1849.5" width="15.7" height="20"/>
<rect class="B" x="1260.6" y="1849.5" width="4.8" height="20"/>
<rect class="G" x="1265.4" y="1849.5" width="7.3" height="20"/>
<rect class="Y" x="1310" y="1849.5" width="5.5" height="20"/>
<rect class="B" x="1335" y="1849.5" width="4.3" height="20"/>
<rect class="G" x="1339.3" y="1849.5" width="54.7" height="20"/>
<rect class="Y" x="1394" y="1849.5" width="4" height="20"/>
<rect class="B" x="1398" y="1849.5" width="8.4" height="20"/>
<rect class="O" x="1406.4" y="1849.5" width="5.6" height="20"/>
<rect class="G" x="1412" y="1849.5" width="5" height="20"/>
<rect class="Y" x="1417" y="1849.5" width="14.6" height="20"/>
<text class="st" x="382" y="1863.5">G</text>
<text class="st" x="773.5" y="1863.5">1er</text>
<text class="st" x="936" y="1863.5">2em</text>
<text class="st" x="982.5" y="1863.5">Guerre</text>
<text class="st" x="1032" y="1863.5">Guerre</text>
<text class="st" x="1209.5" y="1863.5">G</text>
<text class="st" x="1343" y="1863.5">Crise po</text>
<text class="st" x="1420" y="1863.5">G</text>
<path class="tkl" d="M297.6,1872v8M411,1872v8M524,1872v8M637,1872v8M750.6,1872v8M864.3,1872v8M977,1872v8M1091.6,1872v8M1204,1872v8M1318,1872v8"/>
<text class="tk" x="297.6" y="1890.5">1841</text><text class="tk" x="411" y="1890.5">1859</text><text class="tk" x="524" y="1890.5">1876</text><text class="tk" x="637" y="1890.5">1894</text><text class="tk" x="750.6" y="1890.5">1911</text><text class="tk" x="864.3" y="1890.5">1929</text><text class="tk" x="977" y="1890.5">1946</text><text class="tk" x="1091.6" y="1890.5">1964</text><text class="tk" x="1204" y="1890.5">1981</text><text class="tk" x="1318" y="1890.5">1999</text>
</g>

<g id="bar-popes">
<text class="lbl" x="176" y="1948">Léon XIII</text>
<rect class="O" x="183.7" y="1934.7" width="33.1" height="20"/>
<rect class="B" x="216.8" y="1934.7" width="12.4" height="20"/>
<rect class="D" x="229.2" y="1934.7" width="2.3" height="20"/>
<rect class="G" x="231.5" y="1934.7" width="97.7" height="20"/>
<rect class="Y" x="329.2" y="1934.7" width="205.2" height="20"/>
<rect class="O" x="534.4" y="1934.7" width="164.3" height="20"/>
<rect class="B" x="698.7" y="1934.7" width="72.1" height="20"/>
<rect class="G" x="770.8" y="1934.7" width="47.5" height="20"/>
<rect class="Y" x="818.3" y="1934.7" width="109.4" height="20"/>
<rect class="O" x="927.7" y="1934.7" width="127.8" height="20"/>
<rect class="B" x="1055.5" y="1934.7" width="29.1" height="20"/>
<rect class="G" x="1084.6" y="1934.7" width="99.2" height="20"/>
<rect class="O" x="1183.8" y="1934.7" width="171.6" height="20"/>
<rect class="B" x="1355.4" y="1934.7" width="51" height="20"/>
<rect class="G" x="1406.4" y="1934.7" width="25.2" height="20"/>
<text class="st" x="187.5" y="1948.7">Léo</text>
<text class="st" x="220" y="1948.7">P</text>
<text class="st" x="235" y="1948.7">Grégoire XVI</text>
<text class="st" x="333" y="1948.7">Pie IX</text>
<text class="st" x="538" y="1948.7">Léon XIII</text>
<text class="st" x="702.5" y="1948.7">Pie X</text>
<text class="st" x="774.5" y="1948.7">Benoît</text>
<text class="st" x="822" y="1948.7">Pie XI</text>
<text class="st" x="931.5" y="1948.7">Pie XII</text>
<text class="st" x="1059" y="1948.7">Jea</text>
<text class="st" x="1088.5" y="1948.7">Paul VI</text>
<text class="st" x="1187.5" y="1948.7">Jean Paul II</text>
<text class="st" x="1359" y="1948.7">Benoît</text>
<text class="st" x="1410" y="1948.7">Fr</text>
<path class="tkl" d="M297.6,1957v8M411,1957v8M524,1957v8M637,1957v8M750.6,1957v8M864.3,1957v8M977,1957v8M1091.6,1957v8M1204,1957v8M1318,1957v8"/>
<text class="tk" x="297.6" y="1975">1841</text><text class="tk" x="411" y="1975">1859</text><text class="tk" x="524" y="1975">1876</text><text class="tk" x="637" y="1975">1894</text><text class="tk" x="750.6" y="1975">1911</text><text class="tk" x="864.3" y="1975">1929</text><text class="tk" x="977" y="1975">1946</text><text class="tk" x="1091.6" y="1975">1964</text><text class="tk" x="1204" y="1975">1981</text><text class="tk" x="1318" y="1975">1999</text>
</g>
</svg>
